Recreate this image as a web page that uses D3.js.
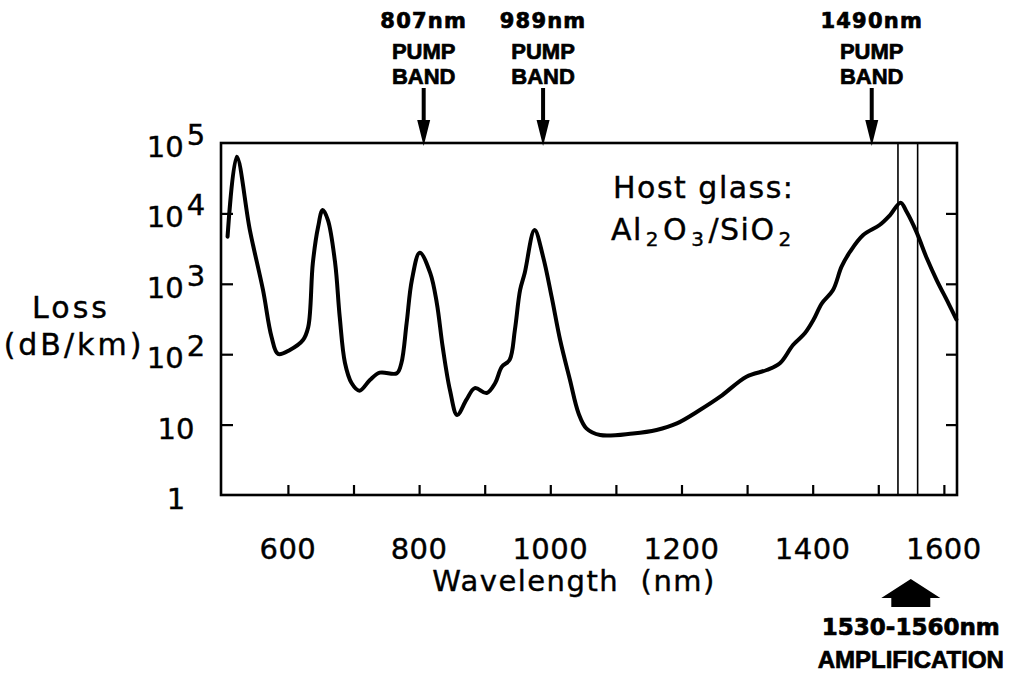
<!DOCTYPE html>
<html>
<head>
<meta charset="utf-8">
<script src="https://cdn.jsdelivr.net/npm/d3@7"></script>
<style>
  html, body { margin: 0; padding: 0; background: #fff; }
  svg { display: block; }
  text { fill: #000; stroke: #000; }
  text.plain { stroke-width: 0.4px; }
  text.heavy { stroke-width: 0.7px; }
</style>
</head>
<body>
<svg id="chart" width="1017" height="675"></svg>
<script>
// Attenuation spectrum of an Er-doped Al2O3/SiO2 fibre
const wavelength = [508, 522, 542, 562, 575, 585, 603, 623, 631, 638, 646, 653, 661, 672, 679, 687, 697, 709,
  725, 740, 766, 773, 781, 789, 801, 817, 827, 836, 847, 858, 872, 885, 903, 916, 926, 938, 946, 954, 961,
  976, 989, 1002, 1015, 1030, 1043, 1055, 1076, 1126, 1162, 1193, 1228, 1259, 1299, 1330, 1350, 1370, 1388,
  1401, 1414, 1431, 1444, 1457, 1477, 1502, 1518, 1534, 1543, 1558, 1574, 1589, 1607, 1619];
const loss = [4670, 63800, 5800, 817, 177, 101, 115, 159, 243, 1970, 6410, 11200, 8050, 1970, 337, 75, 39, 30.3,
  43, 54.6, 53.6, 75, 277, 1133, 2770, 1420, 533, 126, 31, 13.7, 22.4, 33, 28.1, 39, 66, 83, 221, 817, 1420,
  5800, 2430, 656, 159, 43, 14.5, 8.85, 7.1, 7.5, 8.4, 10.4, 16.1, 24.9, 47.9, 59.7, 74.3, 135, 198,
  306, 528, 817, 1750, 2860, 4930, 6840, 9480, 14200, 10600, 5500, 2300, 1130, 528, 313];

const xTickValues = [600, 700, 800, 900, 1000, 1100, 1200, 1300, 1400, 1500, 1600];
const xTickLabels = [600, 800, 1000, 1200, 1400, 1600];
const yTickValues = [1, 10, 100, 1000, 10000, 100000];
const yTickBase = ["1", "10", "10", "10", "10", "10"];
const yTickExp = ["", "", "2", "3", "4", "5"];

const pumpBands = [807, 989, 1490];
const pumpLabels = ["807nm", "989nm", "1490nm"];
const ampBand = [1530, 1560];

const svg = d3.select("#chart");
const plotLeft = 221, plotRight = 957, plotTop = 143, plotBottom = 495;

const x = d3.scaleLinear().domain([498, 1620]).range([plotLeft, plotRight]);
const y = d3.scaleLog().domain([1, 1e5]).range([plotBottom, plotTop]);

const plainFont = "'DejaVu Sans', sans-serif";
const boldFont = "'DejaVu Sans', sans-serif";
const heavyFont = "'Liberation Sans', Arial, sans-serif";

// inward tick marks on bottom, left and right edges
const tickStyle = g => {
  g.select(".domain").remove();
  g.selectAll(".tick line").attr("stroke", "#000").attr("stroke-width", 2.2);
};
svg.append("g").attr("transform", `translate(0,${plotBottom})`)
  .call(d3.axisBottom(x).tickValues(xTickValues).tickSize(-10).tickFormat(""))
  .call(tickStyle);
svg.append("g").attr("transform", `translate(${plotLeft},0)`)
  .call(d3.axisLeft(y).tickValues(yTickValues.slice(1, 5)).tickSize(-12).tickFormat(""))
  .call(tickStyle);
svg.append("g").attr("transform", `translate(${plotRight},0)`)
  .call(d3.axisRight(y).tickValues(yTickValues.slice(1, 5)).tickSize(-11).tickFormat(""))
  .call(tickStyle);

// amplification band boundaries
svg.append("g").selectAll("line").data(ampBand).join("line")
  .attr("x1", d => x(d)).attr("x2", d => x(d))
  .attr("y1", plotTop).attr("y2", plotBottom)
  .attr("stroke", "#000").attr("stroke-width", 1.6);

// plot frame
svg.append("rect")
  .attr("x", plotLeft).attr("y", plotTop)
  .attr("width", plotRight - plotLeft).attr("height", plotBottom - plotTop)
  .attr("fill", "none").attr("stroke", "#000").attr("stroke-width", 2.6);

// x tick labels
svg.append("g").selectAll("text").data(xTickLabels).join("text")
  .attr("class", "plain")
  .attr("x", d => x(d)).attr("y", 559)
  .attr("text-anchor", "middle")
  .style("font-family", plainFont).style("font-size", "29px")
  .style("letter-spacing", "0.5px")
  .text(d => d);

// y tick labels with superscript exponents
const yLab = svg.append("g").selectAll("text").data(yTickValues).join("text")
  .attr("class", "plain")
  .attr("x", 176).attr("y", d => y(d) + 14)
  .attr("text-anchor", "middle")
  .style("font-family", plainFont).style("font-size", "29px");
yLab.append("tspan").text((d, i) => yTickBase[i]);
yLab.append("tspan")
  .attr("dx", (d, i) => yTickExp[i] ? 3 : 0)
  .attr("dy", (d, i) => yTickExp[i] ? -12 : 0)
  .text((d, i) => yTickExp[i]);

// axis titles
svg.append("text").attr("class", "plain").attr("x", 71).attr("y", 318)
  .attr("text-anchor", "middle")
  .style("font-family", plainFont).style("font-size", "30px").style("letter-spacing", "3px")
  .text("Loss");
svg.append("text").attr("class", "plain").attr("x", 74).attr("y", 355)
  .attr("text-anchor", "middle")
  .style("font-family", plainFont).style("font-size", "30px").style("letter-spacing", "3px")
  .text("(dB/km)");
svg.append("text").attr("class", "plain").attr("x", 574).attr("y", 591)
  .attr("text-anchor", "middle")
  .attr("xml:space", "preserve").style("white-space", "pre")
  .style("font-family", plainFont).style("font-size", "29px").style("letter-spacing", "1.5px")
  .text("Wavelength  (nm)");

// host glass note
svg.append("text").attr("class", "plain").attr("x", 613).attr("y", 198)
  .style("font-family", plainFont).style("font-size", "30px").style("letter-spacing", "1.5px")
  .text("Host glass:");
const chem = svg.append("text").attr("class", "plain").attr("x", 611).attr("y", 240)
  .style("font-family", plainFont).style("font-size", "30px").style("letter-spacing", "1.5px");
[["Al", 0], ["2", 1], ["O", 0], ["3", 1], ["/SiO", 0], ["2", 1]].forEach(([t, sub], i, arr) => {
  const prevSub = i > 0 ? arr[i - 1][1] : 0;
  chem.append("tspan")
    .attr("dy", sub && !prevSub ? 6 : (!sub && prevSub ? -6 : 0))
    .attr("dx", sub ? 3 : (prevSub ? 3 : 0))
    .style("font-size", sub ? "20px" : "30px")
    .text(t);
});

// loss curve
const pts = wavelength.map((w, i) => [w, loss[i]]);
svg.append("path").datum(pts)
  .attr("fill", "none").attr("stroke", "#000")
  .attr("stroke-width", 4).attr("stroke-linejoin", "round").attr("stroke-linecap", "round")
  .attr("d", d3.line().x(d => x(d[0])).y(d => y(d[1])).curve(d3.curveCatmullRom.alpha(0.5)));

// pump band arrows and labels
const pump = svg.append("g").selectAll("g").data(pumpBands).join("g")
  .attr("transform", d => `translate(${x(d)},0)`);
pump.append("line").attr("x1", 0).attr("x2", 0).attr("y1", 88).attr("y2", 126)
  .attr("stroke", "#000").attr("stroke-width", 4);
pump.append("path").attr("d", "M-6.5,120L6.5,120L0,146Z").attr("fill", "#000");
pump.append("text").attr("class", "heavy").attr("y", 28).attr("text-anchor", "middle")
  .style("font-family", boldFont).style("font-weight", "bold").style("font-size", "21px")
  .style("letter-spacing", "1.2px")
  .text((d, i) => pumpLabels[i]);
pump.append("text").attr("class", "heavy").attr("y", 59).attr("text-anchor", "middle")
  .style("font-family", heavyFont).style("font-weight", "bold").style("font-size", "22px")
  .text("PUMP");
pump.append("text").attr("class", "heavy").attr("y", 84).attr("text-anchor", "middle")
  .style("font-family", heavyFont).style("font-weight", "bold").style("font-size", "22px")
  .text("BAND");

// amplification window marker
const ampMid = x(d3.mean(ampBand)) + 3;
svg.append("path")
  .attr("d", `M${ampMid},579L${ampMid + 29.5},598L${ampMid + 19.5},598L${ampMid + 19.5},607L${ampMid - 19.5},607L${ampMid - 19.5},598L${ampMid - 29.5},598Z`)
  .attr("fill", "#000");
svg.append("text").attr("class", "heavy").attr("x", ampMid).attr("y", 635).attr("text-anchor", "middle")
  .style("font-family", boldFont).style("font-weight", "bold").style("font-size", "23px")
  .text(`${ampBand[0]}-${ampBand[1]}nm`);
svg.append("text").attr("class", "heavy").attr("x", ampMid).attr("y", 668).attr("text-anchor", "middle")
  .style("font-family", heavyFont).style("font-weight", "bold").style("font-size", "24px")
  .text("AMPLIFICATION");
</script>
</body>
</html>
